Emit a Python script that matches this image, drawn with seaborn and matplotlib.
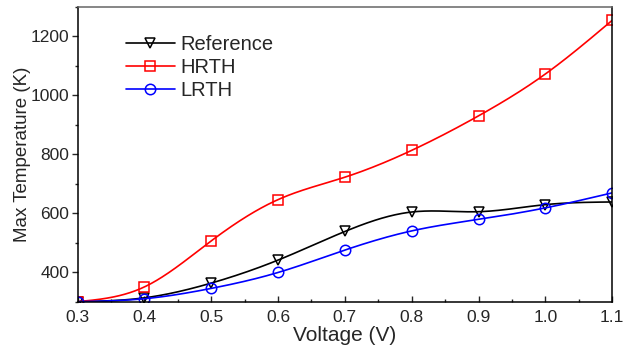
import numpy as np
import pandas as pd
import matplotlib
matplotlib.use("Agg")
import matplotlib.pyplot as plt
import seaborn as sns
from matplotlib.lines import Line2D
from matplotlib.ticker import MultipleLocator

voltage = [0.3, 0.4, 0.5, 0.6, 0.7, 0.8, 0.9, 1.0, 1.1]
reference = [300, 313, 363, 441, 538, 604, 605, 629, 638]
hrth = [300, 350, 506, 646, 722, 813, 930, 1072, 1254]
lrth = [300, 310, 345, 399, 475, 540, 579, 618, 669]
series_names = ["Reference", "HRTH", "LRTH"]
x_ticks = [0.3, 0.4, 0.5, 0.6, 0.7, 0.8, 0.9, 1.0, 1.1]
y_ticks = [400, 600, 800, 1000, 1200]


def natural_spline(x, y, n=400):
    x = np.asarray(x, float)
    y = np.asarray(y, float)
    k = len(x)
    h = np.diff(x)
    A = np.zeros((k, k))
    b = np.zeros(k)
    A[0, 0] = 1
    A[-1, -1] = 1
    for i in range(1, k - 1):
        A[i, i - 1] = h[i - 1]
        A[i, i] = 2 * (h[i - 1] + h[i])
        A[i, i + 1] = h[i]
        b[i] = 6 * ((y[i + 1] - y[i]) / h[i] - (y[i] - y[i - 1]) / h[i - 1])
    M = np.linalg.solve(A, b)
    xs = np.linspace(x[0], x[-1], n)
    idx = np.clip(np.searchsorted(x, xs) - 1, 0, k - 2)
    x0, x1 = x[idx], x[idx + 1]
    hh = x1 - x0
    t0 = x1 - xs
    t1 = xs - x0
    ys = (M[idx] * t0 ** 3 / (6 * hh) + M[idx + 1] * t1 ** 3 / (6 * hh)
          + (y[idx] / hh - M[idx] * hh / 6) * t0
          + (y[idx + 1] / hh - M[idx + 1] * hh / 6) * t1)
    return xs, ys


sns.set_style("ticks")
plt.rcParams["font.family"] = ["Liberation Sans", "DejaVu Sans"]

fig = plt.figure(figsize=(6.37, 3.51), dpi=100)
ax = fig.add_axes([0.1217, 0.1405, 0.8395, 0.8405])

colors = ["black", "#ff0000", "#0000ff"]
markers = ["v", "s", "o"]
all_vals = [reference, hrth, lrth]

handles = []
for name, vals, c, m in zip(series_names, all_vals, colors, markers):
    xs, ys = natural_spline(voltage, vals)
    sns.lineplot(x=xs, y=ys, ax=ax, color=c, lw=1.2, sort=False)
    ax.plot(voltage, vals, linestyle="none", marker=m, markersize=7.5,
            markerfacecolor="none", markeredgecolor=c, markeredgewidth=1.1)
    handles.append(Line2D([], [], color=c, lw=1.2, marker=m, markersize=7.5,
                          markerfacecolor="none", markeredgecolor=c,
                          markeredgewidth=1.1))

ax.set_xlim(0.3, 1.1)
ax.set_ylim(300, 1300)
ax.set_xticks(x_ticks)
ax.set_xticklabels([f"{v:.1f}" for v in x_ticks])
ax.set_yticks(y_ticks)
ax.xaxis.set_minor_locator(MultipleLocator(0.05))
ax.yaxis.set_minor_locator(MultipleLocator(100))
ax.tick_params(axis="x", which="major", direction="in", length=4, width=1,
               labelsize=12.5, pad=6)
ax.tick_params(axis="x", which="minor", direction="in", length=2.5, width=1)
ax.tick_params(axis="y", which="major", direction="out", length=4, width=1,
               labelsize=12.5, pad=2)
ax.tick_params(axis="y", which="minor", direction="out", length=2.5, width=1)

for s in ["left", "bottom", "right"]:
    ax.spines[s].set_color("black")
    ax.spines[s].set_linewidth(1.1)
ax.spines["top"].set_color("#666666")
ax.spines["top"].set_linewidth(1.1)

ax.set_xlabel("Voltage (V)", fontsize=15, labelpad=1)
ax.set_ylabel("Max Temperature (K)", fontsize=13.5, labelpad=0)

leg = ax.legend(handles, series_names, loc="upper left",
                bbox_to_anchor=(0.076, 0.932), frameon=False, fontsize=14.5,
                handlelength=2.4, handletextpad=0.3, labelspacing=0.2,
                borderaxespad=0)

fig.savefig("out.png", dpi=100)
